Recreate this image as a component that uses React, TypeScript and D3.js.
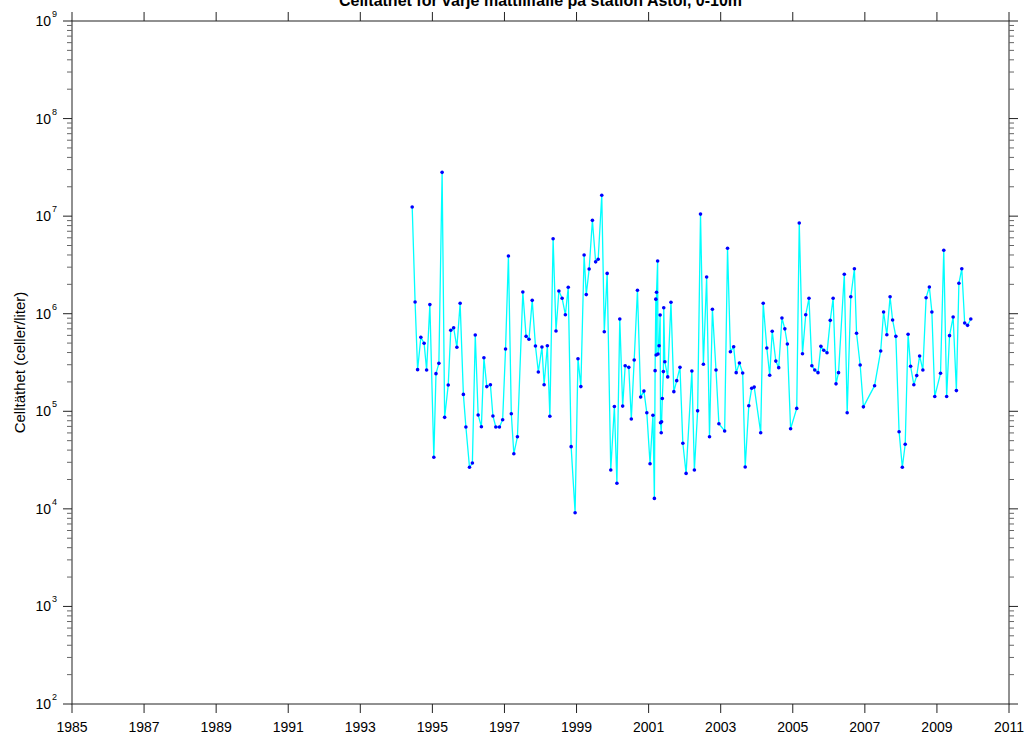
import React from "react";
import * as d3 from "d3";

const years: number[] = [
  1994.44, 1994.52, 1994.59, 1994.68, 1994.77, 1994.84, 1994.93, 1995.04, 1995.10, 1995.18,
  1995.27, 1995.34, 1995.44, 1995.51, 1995.59, 1995.68, 1995.77, 1995.86, 1995.93, 1996.03,
  1996.11, 1996.19, 1996.27, 1996.36, 1996.43, 1996.51, 1996.61, 1996.68, 1996.76, 1996.86,
  1996.95, 1997.03, 1997.11, 1997.19, 1997.26, 1997.36, 1997.51, 1997.60, 1997.68, 1997.77,
  1997.86, 1997.94, 1998.04, 1998.10, 1998.19, 1998.26, 1998.35, 1998.43, 1998.51, 1998.60,
  1998.69, 1998.77, 1998.85, 1998.96, 1999.04, 1999.12, 1999.21, 1999.27, 1999.35, 1999.44,
  1999.53, 1999.60, 1999.70, 1999.77, 1999.85, 1999.95, 2000.05, 2000.12, 2000.20, 2000.28,
  2000.35, 2000.45, 2000.52, 2000.60, 2000.69, 2000.78, 2000.87, 2000.95, 2001.04, 2001.12,
  2001.16, 2001.18, 2001.20, 2001.21, 2001.22, 2001.25, 2001.26, 2001.29, 2001.32, 2001.33,
  2001.35, 2001.36, 2001.38, 2001.41, 2001.42, 2001.45, 2001.53, 2001.62, 2001.70, 2001.78,
  2001.87, 2001.95, 2002.04, 2002.20, 2002.27, 2002.36, 2002.44, 2002.52, 2002.61, 2002.69,
  2002.77, 2002.87, 2002.95, 2003.11, 2003.19, 2003.27, 2003.36, 2003.43, 2003.52, 2003.61,
  2003.68, 2003.78, 2003.86, 2003.93, 2004.11, 2004.18, 2004.28, 2004.36, 2004.43, 2004.53,
  2004.61, 2004.70, 2004.78, 2004.85, 2004.94, 2005.11, 2005.18, 2005.27, 2005.36, 2005.45,
  2005.53, 2005.61, 2005.70, 2005.78, 2005.86, 2005.95, 2006.04, 2006.12, 2006.20, 2006.27,
  2006.43, 2006.51, 2006.61, 2006.71, 2006.77, 2006.87, 2006.96, 2007.27, 2007.44, 2007.52,
  2007.61, 2007.70, 2007.77, 2007.86, 2007.95, 2008.04, 2008.12, 2008.20, 2008.27, 2008.36,
  2008.44, 2008.52, 2008.61, 2008.70, 2008.79, 2008.86, 2008.94, 2009.10, 2009.19, 2009.27,
  2009.35, 2009.45, 2009.54, 2009.61, 2009.69, 2009.77, 2009.85, 2009.94,
];

const cellDensity: number[] = [
  1.24e7, 1.32e6, 2.67e5, 5.73e5, 4.98e5, 2.65e5, 1.24e6, 3.38e4, 2.43e5, 3.10e5,
  2.81e7, 8.67e4, 1.86e5, 6.76e5, 7.19e5, 4.53e5, 1.28e6, 1.49e5, 6.90e4, 2.67e4,
  2.95e4, 6.05e5, 9.16e4, 6.95e4, 3.54e5, 1.79e5, 1.87e5, 8.95e4, 6.90e4, 6.90e4,
  8.20e4, 4.35e5, 3.90e6, 9.44e4, 3.67e4, 5.48e4, 1.67e6, 5.86e5, 5.47e5, 1.37e6,
  4.67e5, 2.53e5, 4.56e5, 1.87e5, 4.70e5, 8.89e4, 5.87e6, 6.65e5, 1.71e6, 1.44e6,
  9.77e5, 1.87e6, 4.34e4, 9.13e3, 3.46e5, 1.79e5, 4.00e6, 1.57e6, 2.87e6, 9.06e6,
  3.40e6, 3.61e6, 1.64e7, 6.54e5, 2.59e6, 2.50e4, 1.12e5, 1.83e4, 8.83e5, 1.13e5,
  2.93e5, 2.82e5, 8.34e4, 3.36e5, 1.74e6, 1.40e5, 1.61e5, 9.67e4, 2.90e4, 9.10e4,
  1.28e4, 2.61e5, 1.41e6, 3.78e5, 1.66e6, 3.47e6, 3.86e5, 4.70e5, 9.70e5, 7.64e4,
  6.03e4, 7.82e4, 1.35e5, 2.55e5, 1.15e6, 3.22e5, 2.25e5, 1.31e6, 1.59e5, 2.06e5,
  2.82e5, 4.70e4, 2.31e4, 2.59e5, 2.50e4, 1.01e5, 1.05e7, 3.03e5, 2.38e6, 5.48e4,
  1.11e6, 2.65e5, 7.46e4, 6.28e4, 4.68e6, 4.08e5, 4.59e5, 2.49e5, 3.13e5, 2.47e5,
  2.69e4, 1.14e5, 1.72e5, 1.77e5, 6.03e4, 1.28e6, 4.45e5, 2.34e5, 6.61e5, 3.27e5,
  2.80e5, 9.04e5, 7.00e5, 4.90e5, 6.62e4, 1.07e5, 8.51e6, 3.89e5, 9.77e5, 1.44e6,
  2.93e5, 2.65e5, 2.49e5, 4.63e5, 4.22e5, 3.98e5, 8.55e5, 1.44e6, 1.91e5, 2.49e5,
  2.54e6, 9.67e4, 1.49e6, 2.89e6, 6.30e5, 2.98e5, 1.11e5, 1.83e5, 4.15e5, 1.04e6,
  6.09e5, 1.49e6, 8.63e5, 5.86e5, 6.18e4, 2.67e4, 4.59e4, 6.15e5, 2.89e5, 1.87e5,
  2.32e5, 3.69e5, 2.65e5, 1.46e6, 1.88e6, 1.04e6, 1.42e5, 2.45e5, 4.47e6, 1.42e5,
  5.96e5, 9.25e5, 1.63e5, 2.05e6, 2.89e6, 8.03e5, 7.60e5, 8.83e5,
];

const xTickYears: number[] = [1985, 1987, 1989, 1991, 1993, 1995, 1997, 1999, 2001, 2003, 2005, 2007, 2009, 2011];
const yExponents: number[] = [2, 3, 4, 5, 6, 7, 8, 9];

const titleText = "Celltäthet för varje mättillfälle på station Astol, 0-10m";
const yLabelText = "Celltäthet (celler/liter)";

const W = 1028;
const H = 735;
const M = { left: 72, right: 1009, top: 21, bottom: 704 };

export default function App() {
  const x = d3.scaleLinear().domain([1985, 2011]).range([M.left, M.right]);
  const y = d3.scaleLog().domain([1e2, 1e9]).range([M.bottom, M.top]);

  const pts = years.map((yr, i) => ({ yr, v: cellDensity[i] }));
  const line = d3
    .line<{ yr: number; v: number }>()
    .x((d) => x(d.yr))
    .y((d) => y(d.v));

  const minor: number[] = [];
  for (let e = 2; e < 9; e++) {
    for (let m = 2; m <= 9; m++) minor.push(m * Math.pow(10, e));
  }

  const font = "Arial, 'Liberation Sans', sans-serif";
  const axisColor = "#222";

  return (
    <div style={{ position: "absolute", left: 0, top: 0 }}>
      <svg width={W} height={H} style={{ display: "block", background: "#fff" }}>
        {/* axes box */}
        <rect
          x={M.left}
          y={M.top}
          width={M.right - M.left}
          height={M.bottom - M.top}
          fill="none"
          stroke={axisColor}
          strokeWidth={1}
        />
        {/* x ticks bottom & top */}
        {xTickYears.map((t) => (
          <g key={"xt" + t}>
            <line x1={x(t)} x2={x(t)} y1={M.bottom} y2={M.bottom + 9} stroke={axisColor} />
            <line x1={x(t)} x2={x(t)} y1={M.top} y2={M.top - 9} stroke={axisColor} />
            <text
              x={x(t)}
              y={M.bottom + 28}
              textAnchor="middle"
              fontFamily={font}
              fontSize={14}
              fill="#000"
            >
              {t}
            </text>
          </g>
        ))}
        {/* y major ticks */}
        {yExponents.map((e) => {
          const yy = y(Math.pow(10, e));
          return (
            <g key={"ye" + e}>
              <line x1={M.left - 9} x2={M.left} y1={yy} y2={yy} stroke={axisColor} />
              <line x1={M.right} x2={M.right + 9} y1={yy} y2={yy} stroke={axisColor} />
              <text x={M.left - 21} y={yy + 5} textAnchor="end" fontFamily={font} fontSize={14} fill="#000">
                10
              </text>
              <text x={M.left - 20} y={yy - 4} textAnchor="start" fontFamily={font} fontSize={9} fill="#000">
                {e}
              </text>
            </g>
          );
        })}
        {/* y minor ticks */}
        {minor.map((v, i) => {
          const yy = y(v);
          return (
            <g key={"ym" + i}>
              <line x1={M.left - 5} x2={M.left} y1={yy} y2={yy} stroke="#666" />
              <line x1={M.right} x2={M.right + 5} y1={yy} y2={yy} stroke="#666" />
            </g>
          );
        })}
        {/* data line */}
        <path d={line(pts) || ""} fill="none" stroke="#00ffff" strokeWidth={1.3} />
        {pts.map((d, i) => (
          <circle key={"p" + i} cx={x(d.yr)} cy={y(d.v)} r={1.8} fill="#0000ff" />
        ))}
        {/* title */}
        <text
          x={(M.left + M.right) / 2}
          y={6}
          textAnchor="middle"
          fontFamily={font}
          fontSize={16}
          fontWeight="bold"
          fill="#000"
        >
          {titleText}
        </text>
        {/* y label */}
        <text
          transform={`translate(25, ${(M.top + M.bottom) / 2}) rotate(-90)`}
          textAnchor="middle"
          fontFamily={font}
          fontSize={15}
          fill="#000"
        >
          {yLabelText}
        </text>
      </svg>
    </div>
  );
}
